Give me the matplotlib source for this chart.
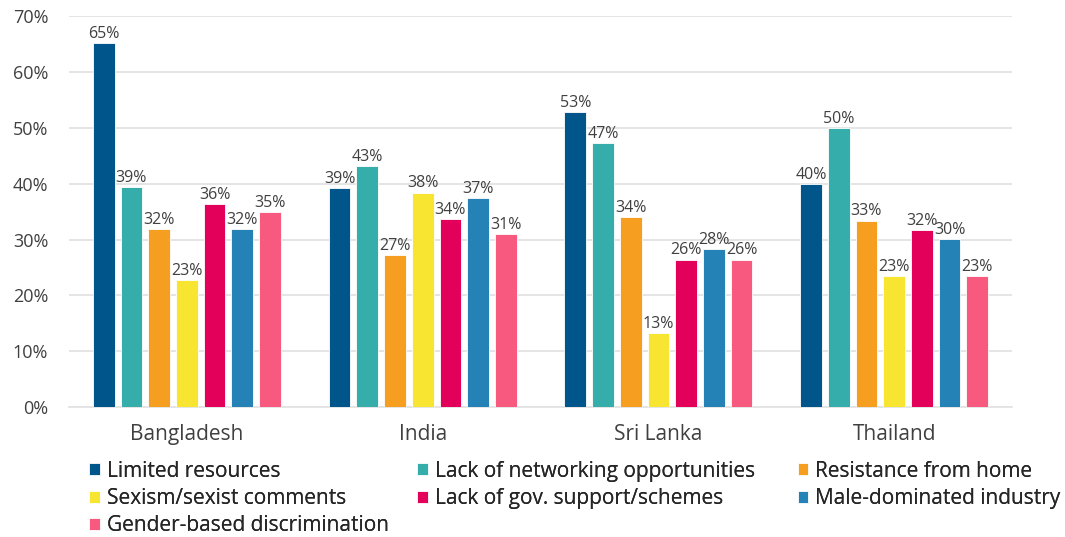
import numpy as np
import matplotlib
matplotlib.use("Agg")
import matplotlib.pyplot as plt
from matplotlib.ticker import PercentFormatter

plt.rcParams['font.family'] = ['Open Sans', 'DejaVu Sans']

countries = ['Bangladesh', 'India', 'Sri Lanka', 'Thailand']
series_names = ['Limited resources', 'Lack of networking opportunities', 'Resistance from home',
                'Sexism/sexist comments', 'Lack of gov. support/schemes', 'Male-dominated industry',
                'Gender-based discrimination']
colors = ['#00558A', '#35ADAA', '#F59E1F', '#F7E532', '#E3005A', '#2482B6', '#F7597F']

limited = [65.2, 39.2, 52.8, 40.0]
networking = [39.4, 43.1, 47.2, 50.0]
resistance = [31.9, 27.2, 34.0, 33.4]
sexism = [22.7, 38.4, 13.2, 23.4]
gov_support = [36.3, 33.7, 26.4, 31.7]
male_dom = [31.9, 37.4, 28.3, 30.1]
gender_disc = [34.9, 31.0, 26.4, 23.4]

data = [limited, networking, resistance, sexism, gov_support, male_dom, gender_disc]

fig = plt.figure(figsize=(10.65, 5.37), dpi=100)
ax = fig.add_axes([0.0648, 0.242, 0.8855, 0.728])

x = np.arange(len(countries))
step = 0.1175
width = 0.092
offsets = (np.arange(len(data)) - 3) * step

bars = []
for i, vals in enumerate(data):
    b = ax.bar(x + offsets[i], np.array(vals) / 100, width, color=colors[i],
               edgecolor='white', linewidth=0.6, label=series_names[i], zorder=3)
    bars.append(b)
    for xi, v in zip(x + offsets[i], vals):
        ax.text(xi, v / 100 + 0.002, f'{round(v)}%', ha='center', va='bottom',
                fontsize=11.5, color='#404040', zorder=4)

ax.set_xlim(-0.5, 3.5)
ax.set_ylim(0, 0.70)
ax.set_yticks(np.arange(0, 0.71, 0.10))
ax.yaxis.set_major_formatter(PercentFormatter(1.0, decimals=0))
ax.set_xticks(x)
ax.set_xticklabels(countries)
ax.tick_params(axis='y', length=0, labelsize=13, colors='#404040', pad=15)
ax.tick_params(axis='x', length=0, labelsize=15, colors='#404040', pad=12)
ax.grid(axis='y', color='#E3E3E3', linewidth=1.3, zorder=0)
for s in ['top', 'right', 'left']:
    ax.spines[s].set_visible(False)
ax.spines['bottom'].set_color('#E3E3E3')
ax.spines['bottom'].set_linewidth(1.3)

# one legend per column so the columns sit where they do in the original
columns = [([0, 3, 6], 0.084), ([1, 4], 0.392), ([2, 5], 0.749)]
for idx, xpos in columns:
    leg = fig.legend([bars[i] for i in idx], [series_names[i] for i in idx],
                     loc='upper left', bbox_to_anchor=(xpos, 0.142), frameon=False,
                     fontsize=15, handlelength=0.5, handleheight=0.5, handletextpad=0.35,
                     labelspacing=0.3, borderaxespad=0, borderpad=0, labelcolor='#262626')
    fig.add_artist(leg)

fig.savefig('out.png', dpi=100)
